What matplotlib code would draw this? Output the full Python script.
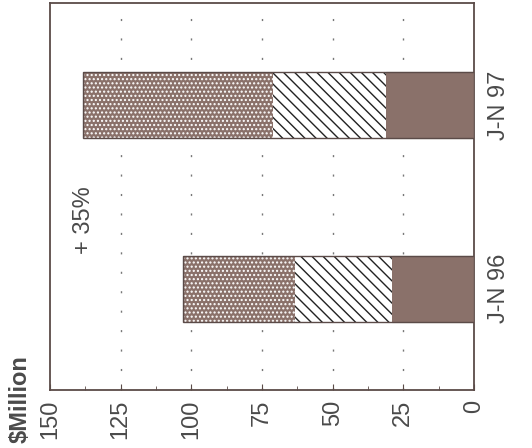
import matplotlib
matplotlib.use('Agg')
import matplotlib.pyplot as plt
from matplotlib.ticker import MultipleLocator

plt.rcParams['font.family'] = ['Liberation Sans', 'DejaVu Sans']
plt.rcParams['hatch.linewidth'] = 1.0

# data ($Million), stacked from 0 outwards
periods = ['J-N 96', 'J-N 97']
solid = [29, 31]
hatched = [34.5, 40]
dotted = [39.5, 67.5]
ticks = [0, 25, 50, 75, 100, 125, 150]
change_label = '+ 35%'

brown = '#8a716a'
frame = '#5b4b48'
txt = '#4a4a4a'

fig = plt.figure(figsize=(5.32, 4.48), dpi=100)
ax = fig.add_axes([0.094, 0.129, 0.797, 0.864])

ypos = list(range(len(periods)))
h = 0.36
left2 = [s + m for s, m in zip(solid, hatched)]

ax.barh(ypos, solid, height=h, color=brown, edgecolor=brown, lw=0.8, zorder=3)
ax.barh(ypos, hatched, left=solid, height=h, facecolor='white',
        edgecolor='#222222', hatch='\\\\\\', lw=0, zorder=3)
ax.barh(ypos, dotted, left=left2, height=h, facecolor=brown,
        edgecolor='white', hatch='....', lw=0, zorder=3)
# outlines
for y, s, m, d in zip(ypos, solid, hatched, dotted):
    ax.barh(y, s + m + d, height=h, fill=False, edgecolor=frame, lw=1.0, zorder=4)

ax.set_xlim(150, 0)
ax.set_ylim(-0.553, 1.556)

ax.set_xticks(ticks)
ax.set_xticklabels([str(t) for t in ticks], rotation=90, fontsize=17, color=txt)
ax.xaxis.set_minor_locator(MultipleLocator(12.5))
ax.tick_params(axis='x', which='major', direction='in', length=4, color=frame, pad=7)
ax.tick_params(axis='x', which='minor', direction='in', length=3, color=frame)

ax.yaxis.tick_right()
ax.set_yticks(ypos)
ax.set_yticklabels(periods, rotation=90, fontsize=17, color=txt, va='center')
ax.tick_params(axis='y', length=0, pad=10)

for t in ticks[1:-1]:
    ax.axvline(t, color='#777777', lw=1, linestyle=(0, (1.5, 12.5)), zorder=1)

for sp in ax.spines.values():
    sp.set_color(frame)
    sp.set_linewidth(1.3)

ax.text(0.08, 0.44, change_label, transform=ax.transAxes, rotation=90,
        fontsize=17, color=txt, ha='center', va='center')
fig.text(0.037, 0.11, '$Million', rotation=90, fontsize=17, fontweight='bold',
         color=txt, ha='center', va='center')

fig.savefig('out.png', dpi=100)
